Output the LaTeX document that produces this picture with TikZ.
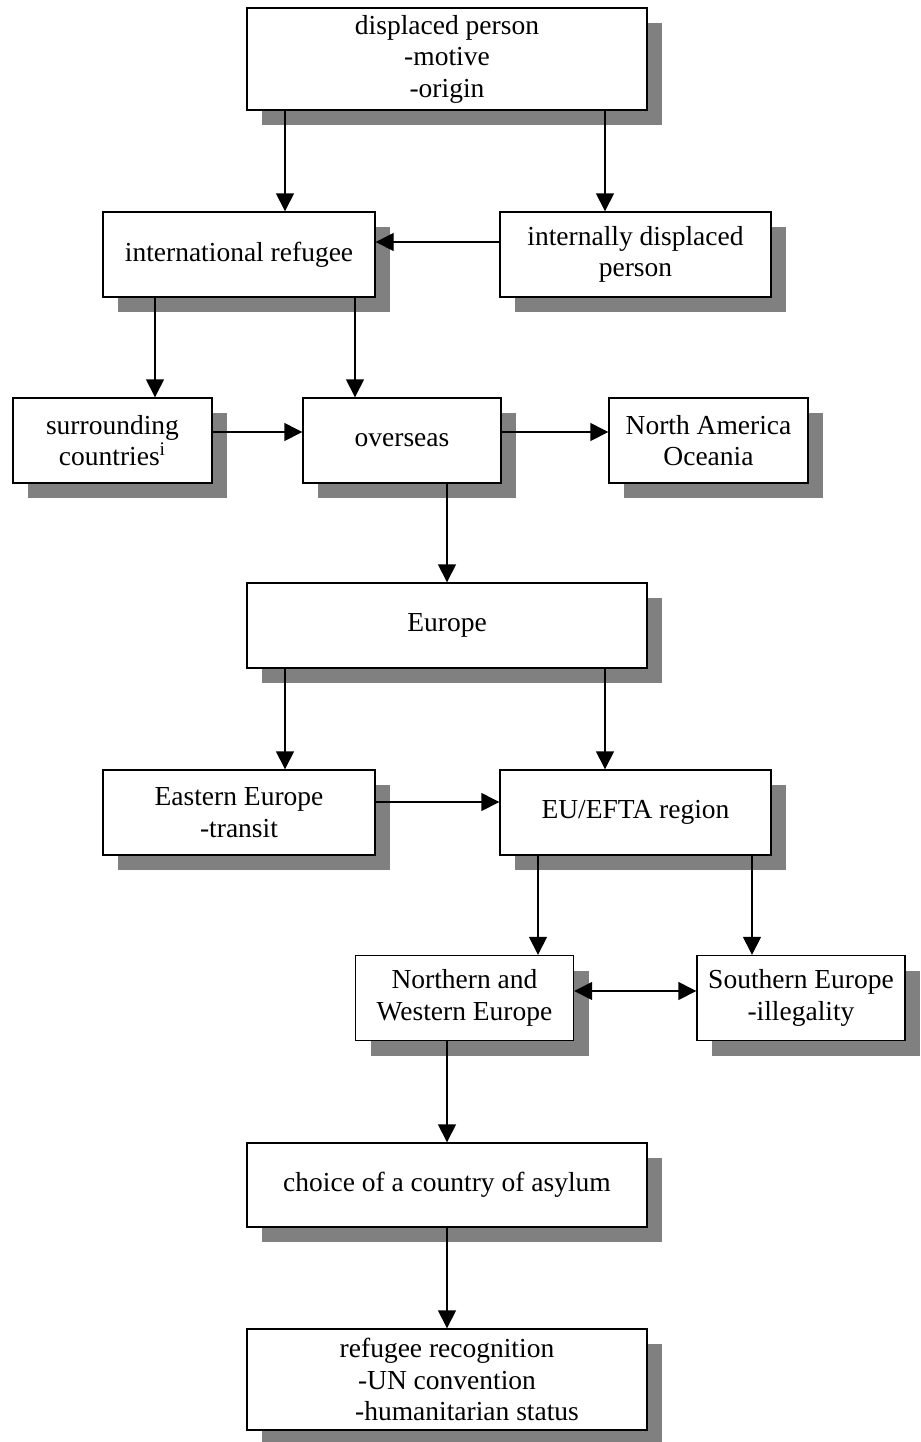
\documentclass[tikz,border=0pt]{standalone}
\usepackage{fontspec}
\setmainfont{Liberation Serif}
\usetikzlibrary{positioning,calc,shadows,arrows.meta}

\tikzset{
    box/.style={draw, line width=0.7pt, fill=white, align=center, inner sep=0pt,
        minimum height=42.5pt,
        drop shadow={shadow xshift=7.5pt, shadow yshift=-7.5pt, fill=gray, opacity=1}},
    arr/.style={line width=0.7pt, -{Triangle[length=9pt,width=9pt]}},
    dblarr/.style={line width=0.7pt, {Triangle[length=9pt,width=9pt]}-{Triangle[length=9pt,width=9pt]}}
}

\begin{document}
\begin{tikzpicture}[x=0.5pt, y=-0.5pt, font=\fontsize{13.75}{15.75}\selectfont]
    \useasboundingbox (0,0) rectangle (921,1442);

    % Top level
    \node [box, minimum width=200pt, minimum height=51pt] (disp) at (447,59) {displaced person\\-motive\\-origin};
    \node [box, minimum width=136pt] (intl) at (239,254.5) {international refugee};
    \node [box, minimum width=135.5pt] (idp) at (635.5,254.5) {internally displaced\\person};

    % Destinations
    \node [box, minimum width=99.5pt] (surr) at (112.5,440.5) {surrounding\\countries\textsuperscript{i}};
    \node [box, minimum width=99pt] (overseas) at (402,440.5) {overseas};
    \node [box, minimum width=99.5pt] (namer) at (708.5,440.5) {North America\\Oceania};

    % Europe
    \node [box, minimum width=200pt] (europe) at (447,625.5) {Europe};
    \node [box, minimum width=136pt] (east) at (239,812.5) {Eastern Europe\\-transit};
    \node [box, minimum width=135.5pt] (efta) at (635.5,812.5) {EU/EFTA region};
    \node [box, minimum width=109pt] (nweu) at (464.5,998) {Northern and\\Western Europe};
    \node [box, minimum width=104pt] (seu) at (801,998) {Southern Europe\\-illegality};

    % Asylum
    \node [box, minimum width=200pt, minimum height=42pt] (choice) at (447,1185) {choice of a country of asylum};
    \node [box, minimum width=200pt, minimum height=50.5pt] (recog) at (447,1379.5) {refugee recognition\\-UN convention\\\hspace*{20pt}-humanitarian status};

    % Connectors
    \draw [arr] ([xshift=-81pt]disp.south) coordinate (d1) -- (d1 |- intl.north);
    \draw [arr] ([xshift=79pt]disp.south) coordinate (d2) -- (d2 |- idp.north);
    \draw [arr] ([yshift=6.25pt]idp.west) -- ([yshift=6.25pt]idp.west -| intl.east);

    \draw [arr] ([xshift=-42pt]intl.south) coordinate (i1) -- (i1 |- surr.north);
    \draw [arr] ([xshift=58pt]intl.south) coordinate (i2) -- (i2 |- overseas.north);
    \draw [arr] ([yshift=4.25pt]surr.east) -- ([yshift=4.25pt]surr.east -| overseas.west);
    \draw [arr] ([yshift=4.25pt]overseas.east) -- ([yshift=4.25pt]overseas.east -| namer.west);
    \draw [arr] (europe.north |- overseas.south) -- (europe.north);

    \draw [arr] ([xshift=-81pt]europe.south) coordinate (e1) -- (e1 |- east.north);
    \draw [arr] ([xshift=79pt]europe.south) coordinate (e2) -- (e2 |- efta.north);
    \draw [arr] ([yshift=5.25pt]east.east) -- ([yshift=5.25pt]east.east -| efta.west);

    \draw [arr] ([xshift=-48.75pt]efta.south) coordinate (f1) -- (f1 |- nweu.north);
    \draw [arr] ([xshift=58.25pt]efta.south) coordinate (f2) -- (f2 |- seu.north);
    \draw [dblarr] ([yshift=3.5pt]nweu.east) -- ([yshift=3.5pt]nweu.east -| seu.west);

    \draw [arr] (choice.north |- nweu.south) -- (choice.north);
    \draw [arr] (choice.south) -- (recog.north);
\end{tikzpicture}
\end{document}
